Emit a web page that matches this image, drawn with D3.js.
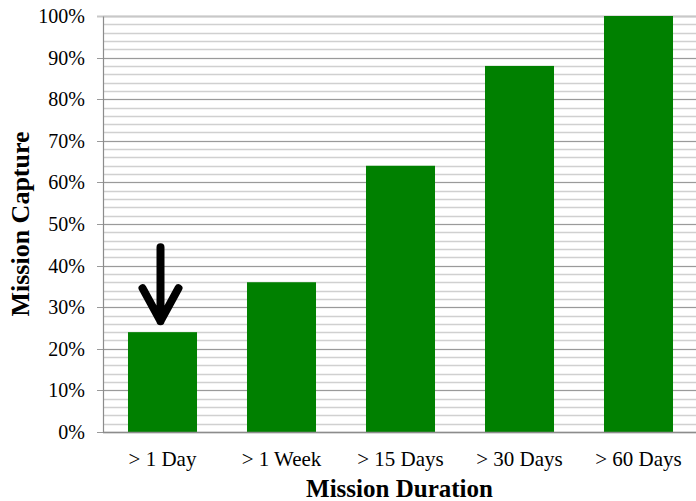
<!DOCTYPE html>
<html>
<head>
<meta charset="utf-8">
<script src="https://cdn.jsdelivr.net/npm/d3@7"></script>
<style>
  body { margin: 0; background: #fff; }
  svg { display: block; }
</style>
</head>
<body>
<div class="chart"></div>
<script>
// data
var categories = ['> 1 Day', '> 1 Week', '> 15 Days', '> 30 Days', '> 60 Days'];
var capture = [0.24, 0.36, 0.64, 0.88, 1.00];
var majorTicks = [0, 0.1, 0.2, 0.3, 0.4, 0.5, 0.6, 0.7, 0.8, 0.9, 1.0];
var minorTicks = d3.range(0, 1.001, 0.02);

var width = 696,
    height = 501,
    margin = {top: 16, right: -2, bottom: 69, left: 103};

var svg = d3.select('.chart')
    .append('svg')
    .attr('width', width)
    .attr('height', height);

var x = d3.scaleBand()
    .domain(categories)
    .range([margin.left, width - margin.right])
    .paddingInner(0.42)
    .paddingOuter(0.21);

var y = d3.scaleLinear()
    .domain([0, 1])
    .range([height - margin.bottom, margin.top]);

// minor gridlines
svg.append('g')
  .selectAll('line')
  .data(minorTicks)
  .enter()
  .append('line')
    .attr('x1', margin.left)
    .attr('x2', width)
    .attr('y1', function(d) { return Math.round(y(d)) + 0.5; })
    .attr('y2', function(d) { return Math.round(y(d)) + 0.5; })
    .style('stroke', '#d0d0d0')
    .style('stroke-width', 1.5);

// major gridlines
svg.append('g')
  .selectAll('line')
  .data(majorTicks)
  .enter()
  .append('line')
    .attr('x1', margin.left - 6)
    .attr('x2', width)
    .attr('y1', function(d) { return Math.round(y(d)) + 0.5; })
    .attr('y2', function(d) { return Math.round(y(d)) + 0.5; })
    .style('stroke', function(d) { return d === 1 ? '#c8c8c8' : '#9a9a9a'; })
    .style('stroke-width', function(d) { return d === 1 ? 2 : 1.2; });

// bars
svg.append('g')
  .selectAll('rect')
  .data(capture)
  .enter()
  .append('rect')
    .attr('x', function(d, i) { return x(categories[i]); })
    .attr('y', function(d) { return y(d); })
    .attr('width', x.bandwidth())
    .attr('height', function(d) { return y(0) - y(d); })
    .style('fill', '#008000');

// y axis
var yAxis = d3.axisLeft(y)
  .tickValues(majorTicks)
  .tickFormat(d3.format('.0%'))
  .tickSize(0)
  .tickPadding(18);

var gy = svg.append('g')
  .attr('transform', 'translate(' + margin.left + ',0)')
  .call(yAxis);
gy.select('.domain').style('stroke', '#8c8c8c').style('stroke-width', 1.2);
gy.selectAll('text')
  .style('font-family', '"Liberation Serif", serif')
  .style('font-size', '20px')
  .style('fill', '#000');

// x axis
var xAxis = d3.axisBottom(x).tickSize(0).tickPadding(19);
var gx = svg.append('g')
  .attr('transform', 'translate(0,' + y(0) + ')')
  .call(xAxis);
gx.select('.domain').attr('d', 'M' + margin.left + ',0.5H' + width).style('stroke', '#8c8c8c').style('stroke-width', 1.5);
gx.selectAll('text')
  .style('font-family', '"Liberation Serif", serif')
  .style('font-size', '21px')
  .style('fill', '#000');

// axis titles
svg.append('text')
  .attr('transform', 'translate(29,' + ((margin.top + y(0)) / 2) + ') rotate(-90)')
  .attr('text-anchor', 'middle')
  .style('font-family', '"Liberation Serif", serif')
  .style('font-weight', 'bold')
  .style('font-size', '26px')
  .text('Mission Capture');

svg.append('text')
  .attr('x', (margin.left + width) / 2)
  .attr('y', 497)
  .attr('text-anchor', 'middle')
  .style('font-family', '"Liberation Serif", serif')
  .style('font-weight', 'bold')
  .style('font-size', '25px')
  .text('Mission Duration');

// arrow over first bar
var ax = x(categories[0]) + x.bandwidth() / 2 - 2;
var ay = y(capture[0]) - 11;
svg.append('path')
  .attr('d', 'M' + ax + ',' + (ay - 74) + 'V' + ay + 'M' + (ax - 18) + ',' + (ay - 33) + 'L' + ax + ',' + ay + 'L' + (ax + 18) + ',' + (ay - 33))
  .style('fill', 'none')
  .style('stroke', '#000')
  .style('stroke-width', 8)
  .style('stroke-linecap', 'round')
  .style('stroke-linejoin', 'round');
</script>
</body>
</html>
